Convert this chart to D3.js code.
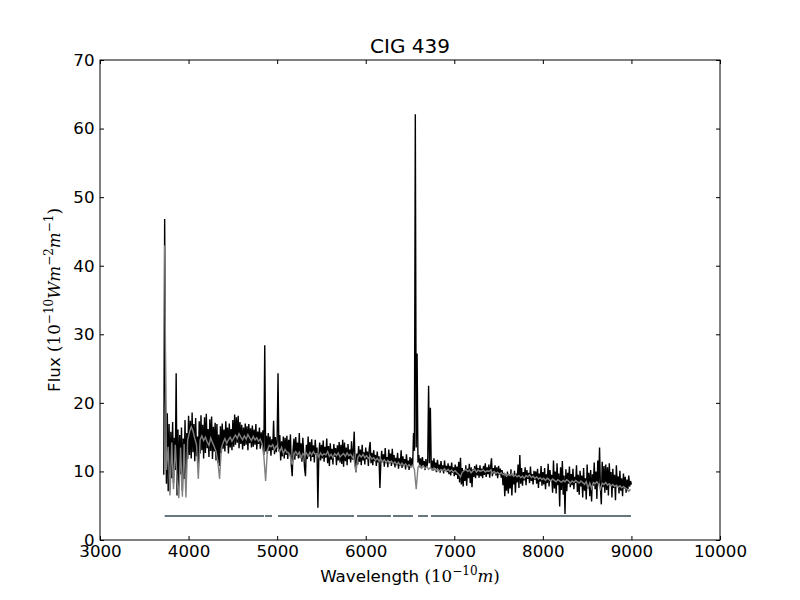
<!DOCTYPE html>
<html>
<head>
<meta charset="utf-8">
<script src="https://cdnjs.cloudflare.com/ajax/libs/d3/7.8.5/d3.min.js"></script>
<style>
    body { margin: 0; background: #fff; }
    text { font-family: "DejaVu Sans", sans-serif; }
</style>
</head>
<body>
<svg id="chart" width="800" height="600"></svg>
<script>

// observed spectrum, one value every 10 A starting at 3720 A
var obsStart = 3720,
    obsStep = 10;
var obsFlux = [
    9.5, 46.8, 20.3, 8.2, 18.5, 7.1, 16.9, 7.4, 15.8, 9.0, 17.2, 8.3, 14.9, 10.2, 24.3, 6.5, 16.1, 7.8, 15.3, 9.6,
    16.4, 7.2, 14.8, 8.9, 17.5, 7.9, 15.6, 11.8, 18.1, 12.4, 17.4, 11.9, 18.6, 12.8, 16.9, 11.5, 17.8, 12.2, 15.1, 10.9,
    17.3, 12.6, 18.2, 13.1, 16.8, 11.9, 17.9, 12.7, 18.4, 13.4, 16.2, 12.1, 17.6, 13.0, 18.0, 11.8, 16.5, 12.9, 17.1, 11.6,
    16.9, 11.2, 15.4, 10.8, 16.6, 12.7, 17.0, 13.3, 16.1, 12.9, 17.3, 13.8, 16.4, 12.6, 17.0, 13.5, 16.2, 13.1, 17.5, 13.6,
    18.3, 13.9, 17.9, 14.2, 18.1, 13.4, 17.2, 14.0, 16.8, 13.2, 16.4, 13.7, 17.0, 13.9, 16.6, 13.1, 16.9, 14.1, 16.3, 13.5,
    16.7, 13.6, 16.1, 13.9, 16.9, 13.2, 15.8, 14.0, 16.4, 13.3, 15.7, 13.8, 16.0, 12.4, 28.4, 12.9, 15.2, 12.6, 15.6, 13.0,
    15.1, 12.3, 14.7, 13.1, 17.4, 12.5, 15.0, 12.8, 14.6, 24.3, 12.9, 15.3, 11.6, 14.4, 12.2, 15.1, 11.9, 14.9, 12.4, 15.2,
    11.8, 14.6, 12.5, 15.4, 10.9, 9.3, 13.2, 14.8, 11.7, 15.0, 12.3, 14.2, 11.9, 15.6, 12.0, 14.1, 11.4, 14.9, 12.6, 10.4,
    9.3, 13.9, 11.8, 15.1, 12.2, 14.3, 11.5, 14.7, 12.1, 13.8, 11.3, 14.6, 12.4, 13.5, 4.7, 12.0, 14.2, 11.6, 13.9, 11.9,
    14.5, 11.4, 13.6, 12.0, 14.8, 11.2, 13.7, 10.8, 14.1, 11.7, 13.3, 11.0, 14.0, 12.1, 13.4, 10.9, 13.8, 11.6, 14.3, 11.3,
    13.9, 11.1, 14.6, 10.7, 14.2, 11.5, 13.5, 10.9, 14.0, 11.8, 13.2, 11.3, 14.4, 11.7, 13.0, 15.8, 11.2, 9.9, 12.6, 11.0,
    13.7, 11.4, 13.2, 10.9, 13.9, 11.6, 12.8, 11.0, 13.5, 11.8, 12.9, 10.8, 13.3, 14.3, 11.2, 12.7, 10.9, 13.1, 11.5, 12.4,
    10.8, 12.9, 11.3, 12.2, 7.6, 11.0, 13.0, 11.4, 12.5, 10.7, 13.4, 11.2, 12.1, 10.6, 13.2, 11.5, 12.6, 10.8, 13.3, 11.1,
    12.4, 10.6, 12.0, 10.9, 12.7, 10.4, 11.9, 10.8, 13.1, 10.5, 12.2, 10.9, 11.8, 10.3, 12.5, 10.7, 11.6, 10.2, 12.1, 10.6,
    11.9, 10.8, 15.6, 13.0, 62.1, 13.5, 27.2, 11.3, 12.4, 10.6, 11.9, 10.4, 12.1, 10.9, 11.5, 10.2, 11.8, 10.6, 11.4, 22.5,
    11.2, 19.3, 10.4, 11.6, 10.1, 11.9, 10.5, 11.3, 9.9, 11.7, 10.3, 11.0, 9.8, 11.5, 10.2, 10.9, 9.7, 11.6, 10.1, 10.8,
    9.9, 11.2, 9.6, 10.8, 9.4, 11.3, 9.8, 10.6, 9.3, 11.0, 9.5, 10.7, 8.9, 11.4, 8.4, 12.0, 8.1, 10.5, 7.8, 10.2,
    8.6, 10.9, 7.9, 10.4, 9.0, 11.1, 8.3, 10.6, 7.7, 10.3, 9.2, 10.8, 9.0, 11.0, 9.4, 10.5, 9.1, 10.9, 9.3, 10.4,
    9.0, 10.8, 9.5, 11.2, 9.2, 10.6, 9.6, 11.0, 9.1, 10.7, 11.9, 9.3, 10.5, 9.7, 10.9, 9.4, 10.6, 9.0, 10.8, 9.5,
    10.4, 9.1, 10.2, 8.0, 9.8, 6.4, 9.5, 7.2, 10.0, 6.8, 9.6, 7.5, 10.3, 6.5, 9.4, 8.1, 10.1, 6.9, 9.7, 8.4,
    11.0, 7.6, 12.4, 8.2, 10.5, 7.9, 9.9, 8.7, 10.6, 8.0, 10.2, 8.9, 9.8, 8.3, 10.7, 8.6, 9.6, 8.1, 10.1, 8.8,
    10.0, 8.2, 10.4, 7.6, 9.7, 8.5, 10.8, 7.9, 9.9, 8.1, 10.5, 7.4, 9.6, 8.3, 11.1, 7.8, 10.2, 8.6, 9.5, 6.9,
    11.6, 7.5, 10.0, 6.8, 11.2, 8.0, 9.7, 4.9, 10.6, 7.3, 11.5, 6.6, 9.4, 3.8, 10.3, 7.1, 9.8, 8.2, 10.7, 7.7,
    9.6, 8.0, 10.4, 7.4, 9.2, 8.3, 10.9, 7.0, 9.5, 6.6, 10.1, 7.8, 9.4, 6.2, 10.5, 7.2, 9.0, 5.9, 11.0, 7.5,
    9.8, 6.4, 10.2, 5.6, 9.6, 7.9, 11.3, 7.4, 10.0, 6.0, 11.6, 8.2, 13.5, 7.6, 5.2, 11.4, 7.7, 10.8, 6.9, 11.0,
    7.3, 10.6, 6.5, 11.2, 8.0, 9.9, 6.2, 10.4, 7.6, 9.5, 5.8, 10.9, 7.9, 9.3, 6.8, 10.1, 7.2, 9.0, 6.4, 9.7,
    7.5, 9.2, 6.9, 8.8, 7.4, 9.4, 7.8, 8.6, 8.1
];

// fitted model, one value every 20 A starting at 3730 A
var modelStart = 3730,
    modelStep = 20;
var modelFlux = [
    43.0, 10.2, 13.6, 6.5, 14.2, 7.4, 13.9, 8.8, 6.1, 13.5,
    6.3, 14.0, 6.2, 14.6, 15.7, 16.5, 15.9, 14.8, 13.9, 8.9,
    14.6, 15.2, 14.5, 15.0, 14.3, 13.8, 14.9, 14.2, 13.6, 12.9,
    11.5, 8.9, 13.4, 14.2, 14.8, 14.1, 14.6, 15.0, 14.4, 14.9,
    15.3, 14.8, 15.5, 15.0, 14.6, 15.2, 14.7, 15.4, 14.9, 14.5,
    15.1, 14.6, 14.9, 14.4, 14.7, 14.0, 12.2, 8.6, 13.1, 13.8,
    13.6, 13.9, 13.2, 13.7, 13.4, 12.9, 13.5, 12.6, 13.2, 12.8,
    12.7, 12.1, 11.0, 12.5, 12.9, 12.4, 12.8, 12.0, 12.6, 12.3,
    12.7, 12.2, 12.8, 12.4, 12.9, 12.5, 12.6, 12.1, 12.7, 12.3,
    12.6, 12.4, 12.9, 12.2, 12.5, 12.0, 12.6, 12.3, 12.7, 12.1,
    12.4, 12.6, 12.2, 12.7, 12.3, 12.5, 12.1, 11.6, 9.9, 12.0,
    12.4, 12.1, 12.5, 12.0, 12.3, 11.9, 12.2, 11.8, 12.0, 11.6,
    11.9, 11.5, 11.8, 11.4, 11.7, 11.3, 11.6, 11.2, 11.5, 11.1,
    11.4, 11.0, 11.3, 10.9, 11.2, 10.8, 11.1, 10.7, 11.0, 10.6,
    10.9, 10.3, 7.4, 10.6, 10.9, 10.5, 10.8, 10.4, 10.7, 10.3,
    10.6, 10.2, 10.5, 10.1, 10.4, 10.0, 10.3, 10.1, 10.4, 10.0,
    10.3, 10.0, 10.2, 9.9, 10.1, 9.8, 9.6, 9.2, 9.9, 10.1,
    10.3, 10.0, 10.2, 9.8, 10.1, 10.3, 9.9, 10.2, 10.0, 10.1,
    10.2, 9.9, 10.1, 10.0, 10.2, 9.8, 10.0, 9.7, 9.9, 9.6,
    9.8, 9.5, 9.7, 9.3, 9.6, 9.4, 9.7, 9.3, 9.5, 9.2,
    9.4, 9.1, 9.3, 9.0, 9.4, 9.2, 9.5, 9.1, 9.3, 9.0,
    9.2, 8.9, 9.1, 8.8, 9.0, 8.7, 9.0, 8.8, 8.6, 8.9,
    8.7, 8.5, 8.8, 8.6, 8.4, 8.7, 8.5, 8.8, 8.6, 8.3,
    8.6, 8.4, 8.7, 8.5, 8.3, 8.6, 8.4, 8.1, 8.5, 7.6,
    8.3, 7.5, 8.4, 8.2, 8.5, 8.1, 7.4, 8.3, 8.1, 8.4,
    8.0, 8.2, 7.9, 8.1, 7.8, 8.0, 7.7, 7.9, 7.6, 7.8,
    7.6, 7.4, 7.1, 7.4
];

// wavelength ranges used in the fit (drawn as a flat bar)
var maskLevel = 3.5;
var maskSegments = [
    [3730, 4852], [4863, 4942], [5010, 5868], [5902, 6285],
    [6308, 6534], [6590, 6703], [6737, 8995]
];

var xTicks = [3000, 4000, 5000, 6000, 7000, 8000, 9000, 10000],
    yTicks = [0, 10, 20, 30, 40, 50, 60, 70];

var margin = { left: 100, right: 80, top: 60, bottom: 60 },
    width = 800 - margin.left - margin.right,
    height = 600 - margin.top - margin.bottom,
    tickFont = "16.7px";

var svg = d3.select("#chart");
var g = svg.append("g")
    .attr("transform", "translate(" + margin.left + "," + margin.top + ")")
    ;

var x = d3.scaleLinear().domain([3000, 10000]).range([0, width]);
var y = d3.scaleLinear().domain([0, 70]).range([height, 0]);

var obs = obsFlux.map(function(f, i) { return [obsStart + i * obsStep, f]; });
var model = modelFlux.map(function(f, i) { return [modelStart + i * modelStep, f]; });

var line = d3.line()
    .x(function(d) { return x(d[0]); })
    .y(function(d) { return y(d[1]); })
    ;

g.append("path")
    .datum(obs)
    .attr("d", line)
    .style("fill", "none")
    .style("stroke", "#000")
    .style("stroke-width", 1.4)
    .style("stroke-linejoin", "miter")
    ;

g.append("path")
    .datum(model)
    .attr("d", line)
    .style("fill", "none")
    .style("stroke", "#808080")
    .style("stroke-width", 1.4)
    ;

g.selectAll(".mask")
    .data(maskSegments)
    .enter().append("line")
    .attr("class", "mask")
    .attr("x1", function(d) { return x(d[0]); })
    .attr("x2", function(d) { return x(d[1]); })
    .attr("y1", y(maskLevel))
    .attr("y2", y(maskLevel))
    .style("stroke", "#67777d")
    .style("stroke-width", 2)
    ;

// ticks point inwards on all four sides, like matplotlib classic
function styleAxis(a) {
    a.select(".domain").remove();
    a.selectAll("line").style("stroke", "#000");
    a.selectAll("text")
        .style("font-family", "'DejaVu Sans', sans-serif")
        .style("font-size", tickFont)
        .style("fill", "#000")
        ;
}

g.append("g")
    .attr("transform", "translate(0," + height + ")")
    .call(d3.axisBottom(x).tickValues(xTicks).tickFormat(d3.format("d"))
        .tickSizeInner(-4).tickSizeOuter(0).tickPadding(5.5))
    .call(styleAxis)
    ;
g.append("g")
    .call(d3.axisTop(x).tickValues(xTicks).tickFormat("")
        .tickSizeInner(-4).tickSizeOuter(0))
    .call(styleAxis)
    ;
g.append("g")
    .call(d3.axisLeft(y).tickValues(yTicks).tickFormat(d3.format("d"))
        .tickSizeInner(-4).tickSizeOuter(0).tickPadding(5.5))
    .call(styleAxis)
    ;
g.append("g")
    .attr("transform", "translate(" + width + ",0)")
    .call(d3.axisRight(y).tickValues(yTicks).tickFormat("")
        .tickSizeInner(-4).tickSizeOuter(0))
    .call(styleAxis)
    ;

g.append("rect")
    .attr("width", width)
    .attr("height", height)
    .style("fill", "none")
    .style("stroke", "#000")
    .style("stroke-width", 1)
    ;

// title
svg.append("text")
    .attr("x", margin.left + width / 2)
    .attr("y", 53)
    .attr("text-anchor", "middle")
    .style("font-size", "20px")
    .text("CIG 439")
    ;

// axis labels with small math parts
var serif = "'DejaVu Serif', serif";

function mathLabel(t, plain, parts) {
    t.append("tspan").text(plain);
    parts.forEach(function(p) {
        var s = t.append("tspan")
            .style("font-family", serif)
            .style("font-size", p.sup ? "12px" : "16.7px")
            .text(p.text)
            ;
        if (p.dy) s.attr("dy", p.dy);
        if (p.italic) s.style("font-style", "italic");
    });
}

var xl = svg.append("text")
    .attr("x", margin.left + width / 2)
    .attr("y", 582)
    .attr("text-anchor", "middle")
    .style("font-size", "16.7px")
    ;
mathLabel(xl, "Wavelength ", [
    { text: "(10" },
    { text: "\u221210", sup: true, dy: -7 },
    { text: "m", italic: true, dy: 7 },
    { text: ")" }
]);

var yl = svg.append("text")
    .attr("transform", "translate(60," + (margin.top + height / 2) + ") rotate(-90)")
    .attr("text-anchor", "middle")
    .style("font-size", "16.7px")
    ;
mathLabel(yl, "Flux ", [
    { text: "(10" },
    { text: "\u221210", sup: true, dy: -7 },
    { text: "Wm", italic: true, dy: 7 },
    { text: "\u22122", sup: true, dy: -7 },
    { text: "m", italic: true, dy: 7 },
    { text: "\u22121", sup: true, dy: -7 },
    { text: ")", dy: 7 }
]);

</script>
</body>
</html>
